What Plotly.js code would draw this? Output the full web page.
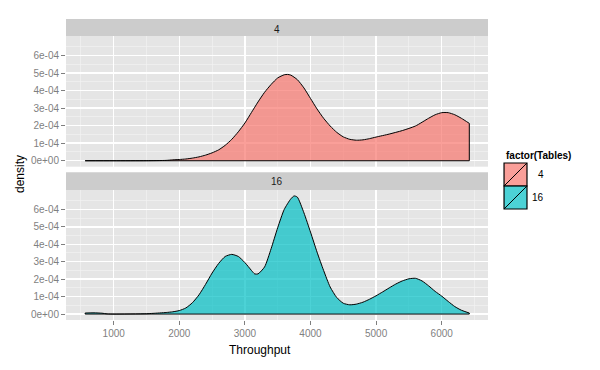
<!DOCTYPE html>
<html>
<head>
<meta charset="utf-8">
<script src="https://cdn.plot.ly/plotly-3.0.1.min.js"></script>
<style>html,body{margin:0;padding:0;background:#fff;}#chart{width:600px;height:370px;}</style>
</head>
<body>
<div id="chart"></div>
<script>
// Data (density in units of 1e-4)
const tables = ["4", "16"];
const throughput4 = [565, 1000, 1500, 1800, 1900, 2000, 2100, 2200, 2300, 2400, 2500, 2600, 2700, 2800, 2900, 3000, 3100, 3200, 3300, 3400, 3500, 3600, 3650, 3700, 3800, 3900, 4000, 4100, 4200, 4300, 4400, 4500, 4600, 4700, 4800, 4900, 5000, 5200, 5400, 5600, 5800, 5900, 6000, 6100, 6200, 6300, 6421];
const density4 = [0, 0, 0.002, 0.02, 0.05, 0.07, 0.1, 0.15, 0.22, 0.32, 0.45, 0.62, 0.88, 1.22, 1.65, 2.15, 2.75, 3.35, 3.9, 4.35, 4.72, 4.9, 4.92, 4.88, 4.62, 4.15, 3.55, 2.95, 2.42, 1.98, 1.62, 1.36, 1.22, 1.17, 1.19, 1.26, 1.35, 1.52, 1.72, 1.98, 2.42, 2.62, 2.74, 2.74, 2.62, 2.42, 2.13];
const throughput16 = [565, 700, 820, 900, 1000, 1500, 1600, 1800, 1900, 2000, 2100, 2200, 2300, 2400, 2500, 2600, 2700, 2800, 2900, 3000, 3100, 3150, 3200, 3300, 3400, 3500, 3600, 3700, 3750, 3800, 3900, 4000, 4100, 4200, 4300, 4400, 4500, 4600, 4700, 4800, 4900, 5000, 5100, 5200, 5300, 5400, 5500, 5600, 5700, 5800, 5900, 6000, 6100, 6200, 6300, 6421];
const density16 = [0.06, 0.07, 0.05, 0.01, 0, 0.02, 0.04, 0.09, 0.13, 0.2, 0.35, 0.65, 1.1, 1.7, 2.35, 2.9, 3.3, 3.42, 3.3, 2.95, 2.5, 2.3, 2.3, 2.7, 3.75, 4.95, 6.0, 6.6, 6.77, 6.7, 5.8, 4.7, 3.55, 2.5, 1.55, 0.95, 0.62, 0.53, 0.57, 0.68, 0.85, 1.05, 1.27, 1.5, 1.72, 1.9, 2.02, 2.05, 1.9, 1.62, 1.3, 1.03, 0.72, 0.43, 0.22, 0.06];
const xTickVals = [1000, 2000, 3000, 4000, 5000, 6000];
const yTickVals = [0, 1e-4, 2e-4, 3e-4, 4e-4, 5e-4, 6e-4];
const yTickText = ["0e+00", "1e-04", "2e-04", "3e-04", "4e-04", "5e-04", "6e-04"];
const yMinorVals = [0.5e-4, 1.5e-4, 2.5e-4, 3.5e-4, 4.5e-4, 5.5e-4, 6.5e-4];

const fills = ["rgba(248,118,109,0.7)", "rgba(0,191,196,0.7)"];
const scale = v => v.map(d => d * 1e-4);

function densityTraces(xs, ds, xa, ya, fill) {
  const y = scale(ds);
  const n = xs.length - 1;
  return [
    {x: xs, y: y, xaxis: xa, yaxis: ya, type: "scatter", mode: "lines",
     fill: "tozeroy", fillcolor: fill, line: {color: "#000", width: 1, shape: "spline", smoothing: 0.6},
     hoverinfo: "skip", showlegend: false},
    {x: [xs[n], xs[n], xs[0], xs[0]], y: [y[n], 0, 0, y[0]], xaxis: xa, yaxis: ya, type: "scatter", mode: "lines",
     line: {color: "#000", width: 1}, hoverinfo: "skip", showlegend: false}
  ];
}

const data = [
  ...densityTraces(throughput4, density4, "x", "y", fills[0]),
  ...densityTraces(throughput16, density16, "x2", "y2", fills[1])
];

const font = "Liberation Sans, Arial, sans-serif";
const gridMajor = "#FFFFFF", gridMinor = "#F2F2F2";
const xRange = [273, 6706];
const yRange = [-0.34e-4, 7.11e-4];

function xAxis(show) {
  return {
    range: xRange, tickmode: "array", tickvals: xTickVals, showticklabels: show,
    ticks: show ? "outside" : "", ticklen: 4, tickcolor: "#7F7F7F", tickwidth: 1,
    tickfont: {family: font, size: 10, color: "#7F7F7F"},
    showgrid: true, gridcolor: gridMajor, gridwidth: 1.4, zeroline: false, showline: false,
    minor: {tickmode: "array", tickvals: [500, 1500, 2500, 3500, 4500, 5500, 6500], showgrid: true, gridcolor: gridMinor, gridwidth: 0.7, ticks: ""}
  };
}
function yAxis(domain) {
  return {
    domain: domain, range: yRange, tickmode: "array", tickvals: yTickVals, ticktext: yTickText,
    ticks: "outside", ticklen: 4, tickcolor: "#7F7F7F", tickwidth: 1,
    tickfont: {family: font, size: 10, color: "#7F7F7F"},
    showgrid: true, gridcolor: gridMajor, gridwidth: 1.4, zeroline: false, showline: false,
    minor: {tickmode: "array", tickvals: yMinorVals, showgrid: true, gridcolor: gridMinor, gridwidth: 0.7, ticks: ""}
  };
}

const topDom = [0.5093, 0.9435], botDom = [0, 0.4319];
const shapes = [
  {type: "rect", xref: "paper", yref: "paper", x0: 0, x1: 1, y0: 0.9435, y1: 1, fillcolor: "#CCCCCC", line: {width: 0}, layer: "below"},
  {type: "rect", xref: "paper", yref: "paper", x0: 0, x1: 1, y0: 0.4319, y1: 0.4907, fillcolor: "#CCCCCC", line: {width: 0}, layer: "below"}
];
// legend keys
const keyY = [[0.4452, 0.5216], [0.3688, 0.4452]];
keyY.forEach((k, i) => {
  shapes.push({type: "rect", xref: "paper", yref: "paper", x0: 1.038, x1: 1.0924, y0: k[0], y1: k[1], fillcolor: fills[i], line: {color: "#000", width: 1.2}});
  shapes.push({type: "line", xref: "paper", yref: "paper", x0: 1.038, x1: 1.0924, y0: k[0], y1: k[1], line: {color: "#000", width: 1}});
});

function ann(text, x, y, size, opts) {
  return Object.assign({text: text, xref: "paper", yref: "paper", x: x, y: y, xanchor: "center", yanchor: "middle",
    showarrow: false, font: {family: font, size: size, color: "#000"}}, opts || {});
}
const annotations = [
  ann(tables[0], 0.5, 0.9635, 10, {font: {family: font, size: 10, color: "#1A1A1A"}}),
  ann(tables[1], 0.5, 0.4585, 10, {font: {family: font, size: 10, color: "#1A1A1A"}}),
  ann("Throughput", 0.4597, -0.0997, 12),
  ann("density", -0.109, 0.485, 12, {textangle: -90}),
  ann("<b>factor(Tables)</b>", 1.038, 0.545, 10, {xanchor: "left"}),
  ann(tables[0], 1.1374, 0.4834, 10, {xanchor: "right"}),
  ann(tables[1], 1.1374, 0.407, 10, {xanchor: "right"})
];

const layout = {
  width: 600, height: 370,
  margin: {l: 66, r: 112, t: 19, b: 50, pad: 0},
  paper_bgcolor: "#FFFFFF", plot_bgcolor: "#E5E5E5",
  showlegend: false,
  xaxis: Object.assign(xAxis(false), {anchor: "y", matches: "x2"}),
  xaxis2: Object.assign(xAxis(true), {anchor: "y2"}),
  yaxis: Object.assign(yAxis(topDom), {anchor: "x"}),
  yaxis2: Object.assign(yAxis(botDom), {anchor: "x2"}),
  shapes: shapes, annotations: annotations
};

Plotly.newPlot("chart", data, layout, {staticPlot: true, displayModeBar: false});
</script>
</body>
</html>
